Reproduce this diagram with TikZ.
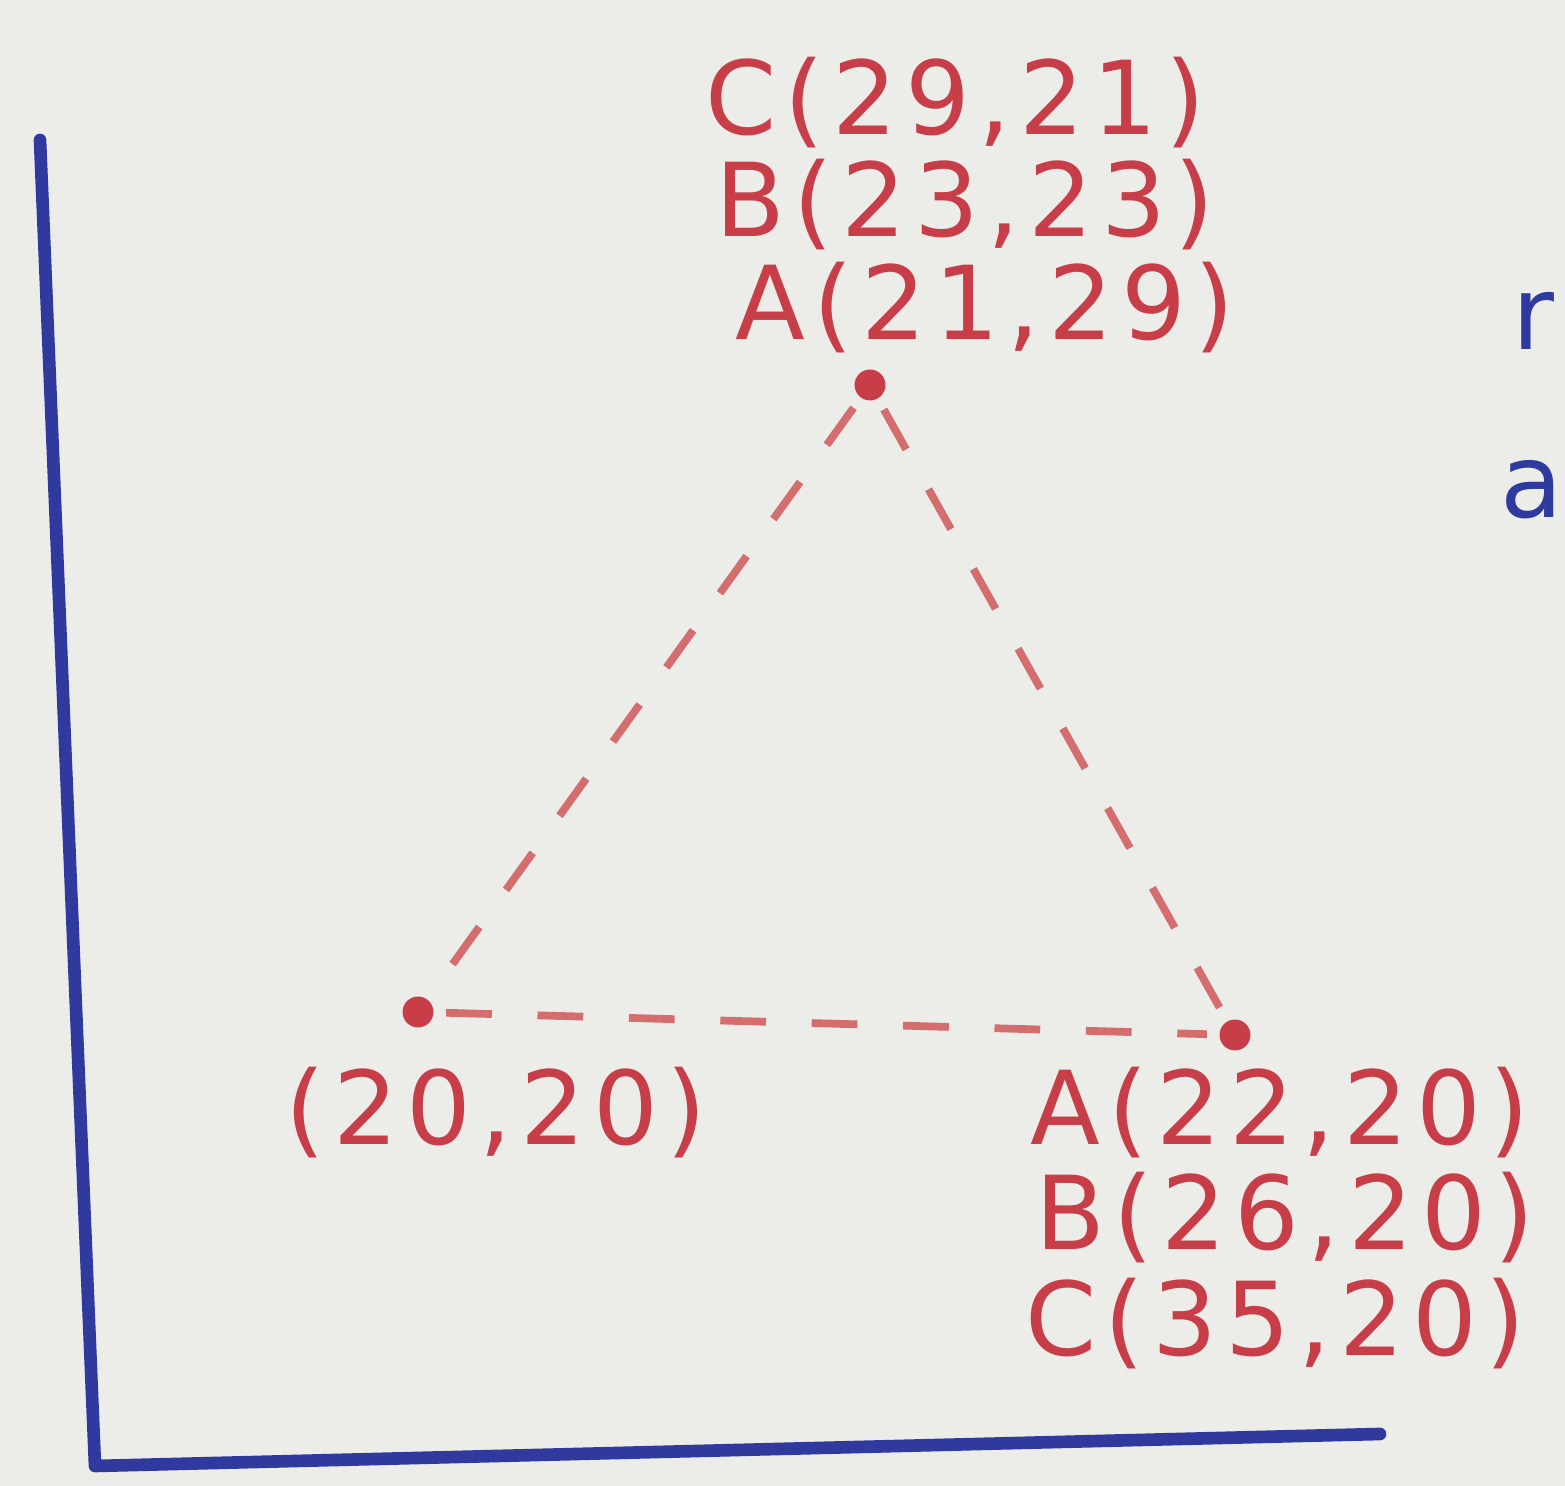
\documentclass[tikz,border=0pt]{standalone}
\usepackage{fontspec}
\setmainfont{DejaVu Sans}
\usepackage{tikz}

\definecolor{encre}{RGB}{200,62,72}
\definecolor{pointille}{RGB}{212,110,110}
\definecolor{feutre}{RGB}{48,58,158}
\definecolor{tableau}{RGB}{236,236,233}

\tikzset{
  etiquette/.style={text=encre, anchor=base west, inner sep=0pt,
    font=\fontsize{29}{32}\selectfont\addfontfeature{LetterSpace=8}},
  lettre/.style={text=feutre, anchor=base west, inner sep=0pt, font=\fontsize{29}{32}\selectfont},
  trait/.style={pointille, line width=2.2pt, dash pattern=on 13pt off 13pt, shorten <=8pt, shorten >=8pt}
}

\begin{document}
\begin{tikzpicture}[x=0.01cm, y=-0.01cm]
  % Fond du tableau
  \fill[tableau] (0,0) rectangle (1565,1486);
  \useasboundingbox (0,0) rectangle (1565,1486);

  % Axes
  \coordinate (O) at (95,1466);
  \coordinate (Y) at (40,140);
  \coordinate (X) at (1380,1434);
  \draw[feutre, line width=3.6pt, line cap=round, line join=round] (Y) -- (O) -- (X);

  % Sommets
  \coordinate (S) at (870,385);
  \coordinate (G) at (418,1012);
  \coordinate (D) at (1235,1035);

  % Triangle en pointilles
  \draw[trait] (S) -- (G);
  \draw[trait] (S) -- (D);
  \draw[trait] (G) -- (D);

  % Points
  \filldraw[encre] (S) circle (4.2pt);
  \filldraw[encre] (G) circle (4.2pt);
  \filldraw[encre] (D) circle (4.2pt);

  % Etiquettes du sommet
  \node[etiquette] (c1) at (705,135) {C(29,21)};
  \node[etiquette] (b1) at (715,237) {B(23,23)};
  \node[etiquette] (a1) at (735,340) {A(21,29)};

  % Etiquette de l'origine
  \node[etiquette] (o1) at (285,1145) {(20,20)};

  % Etiquettes a droite
  \node[etiquette] (a2) at (1030,1145) {A(22,20)};
  \node[etiquette] (b2) at (1035,1250) {B(26,20)};
  \node[etiquette] (c2) at (1025,1356) {C(35,20)};

  % Lettres au bord
  \node[lettre] (r) at (1512,350) {r};
  \node[lettre] (a) at (1500,518) {a};
\end{tikzpicture}
\end{document}
